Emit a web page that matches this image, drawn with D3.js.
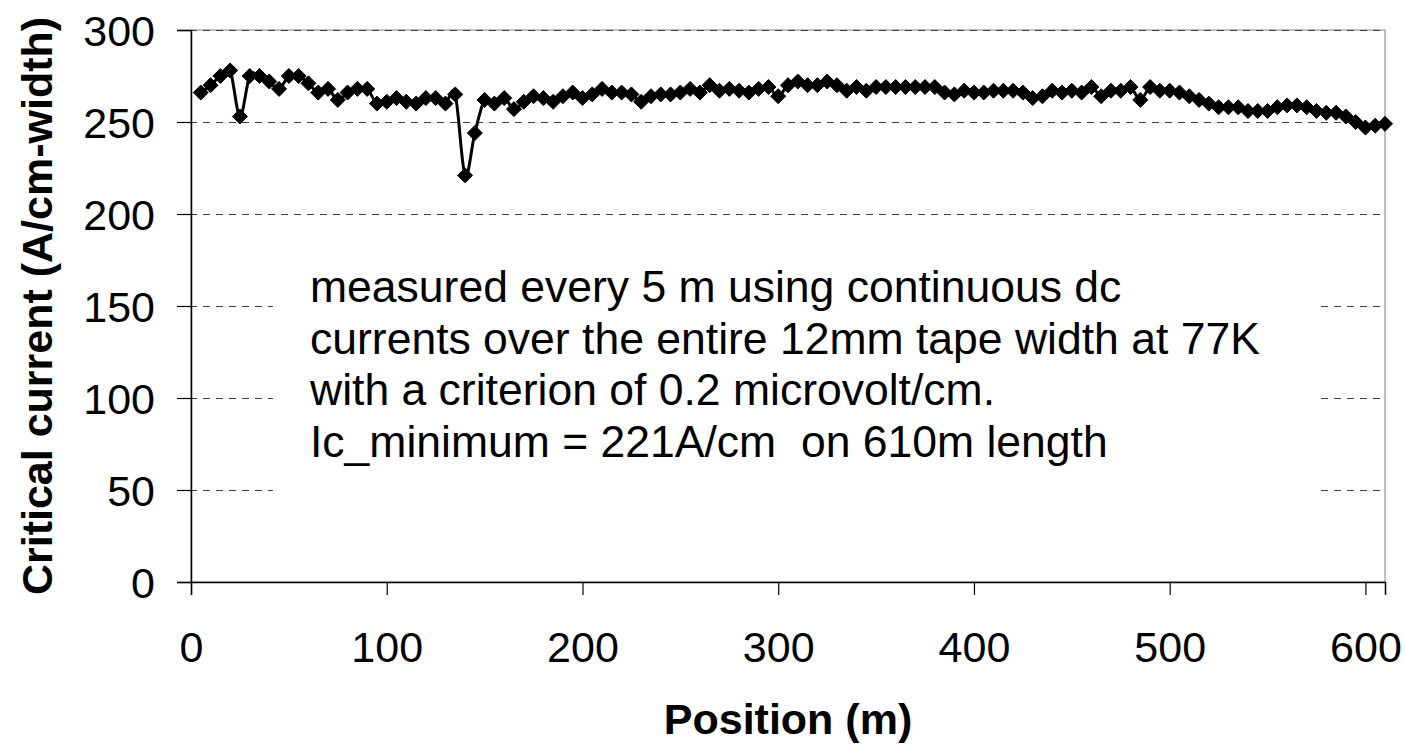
<!DOCTYPE html>
<html>
<head>
<meta charset="utf-8">
<style>
  body { margin: 0; background: #fff; }
  svg { display: block; font-family: "Liberation Sans", Arial, sans-serif; }
  .grid line { stroke: #404040; stroke-width: 1; stroke-dasharray: 7,6; }
  .tick text { font-size: 43px; fill: #000; }
</style>
</head>
<body>
<svg width="1405" height="746"></svg>
<script src="https://d3js.org/d3.v7.min.js"></script>
<script>
// position along the tape (m)
var positions = [5, 10, 15, 20, 25, 30, 35, 40, 45, 50, 55, 60, 65, 70, 75, 80, 85, 90, 95, 100,
  105, 110, 115, 120, 125, 130, 135, 140, 145, 150, 155, 160, 165, 170, 175, 180, 185, 190, 195, 200,
  205, 210, 215, 220, 225, 230, 235, 240, 245, 250, 255, 260, 265, 270, 275, 280, 285, 290, 295, 300,
  305, 310, 315, 320, 325, 330, 335, 340, 345, 350, 355, 360, 365, 370, 375, 380, 385, 390, 395, 400,
  405, 410, 415, 420, 425, 430, 435, 440, 445, 450, 455, 460, 465, 470, 475, 480, 485, 490, 495, 500,
  505, 510, 515, 520, 525, 530, 535, 540, 545, 550, 555, 560, 565, 570, 575, 580, 585, 590, 595, 600,
  605, 610];

// critical current (A/cm-width)
var current = [266, 270, 275, 278, 253, 275, 275, 272, 268, 275, 275, 271, 266, 268, 262, 266, 268, 268, 260, 261,
  263, 261, 260, 263, 263, 260, 265, 221, 244, 262, 260, 263, 257, 261, 264, 263, 261, 264, 266, 263,
  265, 268, 266, 266, 265, 261, 264, 265, 265, 266, 268, 266, 270, 267, 268, 267, 266, 268, 269, 264,
  270, 272, 270, 270, 272, 270, 267, 269, 267, 269, 269, 269, 269, 269, 269, 269, 266, 265, 267, 266,
  266, 267, 267, 267, 266, 263, 264, 267, 266, 267, 266, 269, 264, 267, 267, 269, 262, 269, 267, 267,
  266, 264, 262, 260, 258, 258, 258, 256, 256, 256, 258, 259, 259, 258, 256, 255, 255, 253, 250, 247,
  248, 249];

var xTicks = [0, 100, 200, 300, 400, 500, 600];
var yTicks = [0, 50, 100, 150, 200, 250, 300];

var note = [
  "measured every 5 m using continuous dc",
  "currents over the entire 12mm tape width at 77K",
  "with a criterion of 0.2 microvolt/cm.",
  "Ic_minimum = 221A/cm  on 610m length"
];

var svg = d3.select("svg"),
  margin = { top: 30, right: 20, bottom: 164, left: 191 },
  width = +svg.attr("width") - margin.left - margin.right,
  height = +svg.attr("height") - margin.top - margin.bottom;

var x = d3.scaleLinear().domain([0, 610]).range([0, width]),
  y = d3.scaleLinear().domain([0, 300]).range([height, 0]);

var data = positions.map(function(p, i) { return { pos: p, ic: current[i] }; });

var g = svg.append("g")
  .attr("transform", "translate(" + margin.left + "," + margin.top + ")");

// plot area border
g.append("rect")
  .attr("width", width)
  .attr("height", height)
  .attr("fill", "none")
  .attr("stroke", "#808080")
  .attr("stroke-width", 1);

// dashed gridlines
g.append("g")
  .attr("class", "grid")
  .selectAll("line")
  .data(yTicks.filter(function(d) { return d > 0; }))
  .enter().append("line")
  .attr("x1", -14)
  .attr("x2", width)
  .attr("y1", function(d) { return y(d) + 0.5; })
  .attr("y2", function(d) { return y(d) + 0.5; });

// white text box sitting over the gridlines
g.append("rect")
  .attr("x", 82)
  .attr("y", 196)
  .attr("width", 1042)
  .attr("height", 274)
  .attr("fill", "#fff");

g.append("g")
  .selectAll("text")
  .data(note)
  .enter().append("text")
  .attr("x", 119)
  .attr("y", function(d, i) { return 272 + i * 51.7; })
  .style("font-size", "44.5px")
  .style("white-space", "pre")
  .attr("xml:space", "preserve")
  .text(function(d) { return d; });

// axes
var xAxis = g.append("g")
  .attr("transform", "translate(0," + height + ")")
  .call(d3.axisBottom(x).tickValues(xTicks).tickSize(13).tickPadding(36).tickFormat(d3.format("d")));
xAxis.select(".domain").attr("stroke", "#000").attr("stroke-width", 1.5);
xAxis.selectAll(".tick line").attr("stroke", "#000").attr("stroke-width", 1.2);

var yAxis = g.append("g")
  .call(d3.axisLeft(y).tickValues(yTicks).tickSize(14).tickPadding(22).tickFormat(d3.format("d")));
yAxis.select(".domain").attr("stroke", "#000").attr("stroke-width", 1.5);
yAxis.selectAll(".tick line").attr("stroke", "#000").attr("stroke-width", 1.2);
yAxis.selectAll(".tick text").attr("dy", "0.36em");

// series
var line = d3.line()
  .curve(d3.curveCatmullRom.alpha(0))
  .x(function(d) { return x(d.pos); })
  .y(function(d) { return y(d.ic); });

g.append("path")
  .datum(data)
  .attr("fill", "none")
  .attr("stroke", "#000")
  .attr("stroke-width", 3)
  .attr("d", line);

g.selectAll(".marker")
  .data(data)
  .enter().append("path")
  .attr("class", "marker")
  .attr("d", "M0,-7.5L7.5,0L0,7.5L-7.5,0Z")
  .attr("fill", "#000")
  .attr("stroke", "#000")
  .attr("stroke-width", 1)
  .attr("stroke-linejoin", "round")
  .attr("transform", function(d) { return "translate(" + x(d.pos) + "," + y(d.ic) + ")"; });

// axis titles
svg.append("text")
  .attr("x", margin.left + x(305))
  .attr("y", 734)
  .attr("text-anchor", "middle")
  .style("font-size", "43px")
  .style("font-weight", "bold")
  .text("Position (m)");

svg.append("text")
  .attr("transform", "translate(52," + (margin.top + height / 2) + ") rotate(-90)")
  .attr("text-anchor", "middle")
  .style("font-size", "43px")
  .style("font-weight", "bold")
  .text("Critical current (A/cm-width)");
</script>
</body>
</html>
